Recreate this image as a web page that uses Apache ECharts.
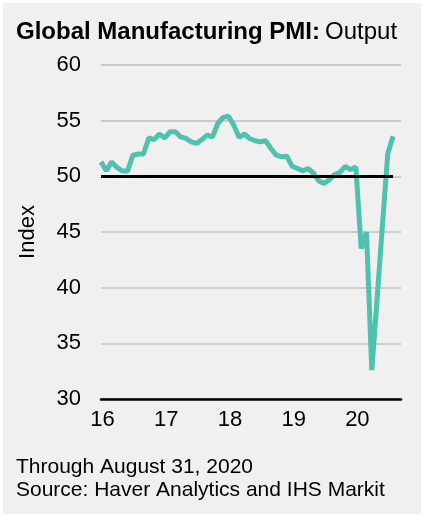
<!DOCTYPE html>
<html>
<head>
<meta charset="utf-8">
<script src="https://cdn.jsdelivr.net/npm/echarts@6/dist/echarts.min.js"></script>
<style>
  html, body { margin: 0; padding: 0; background: #ffffff; }
  #main { position: absolute; left: 3px; top: 3px; width: 418px; height: 511px; }
</style>
</head>
<body>
<div id="main"></div>
<script>
// month labels Jan 2016 .. Aug 2020
var months = [];
for (var y = 2016; y <= 2020; y++) {
    for (var m = 1; m <= 12; m++) {
        if (y === 2020 && m > 8) break;
        months.push(y + '-' + m);
    }
}
var yearLabels = ['16', '17', '18', '19', '20'];

// PMI output index, monthly, Jan 2016 - Aug 2020
var output2016 = [51.3, 50.5, 51.3, 50.8, 50.5, 50.45, 51.9, 52.0, 52.0, 53.45, 53.3, 53.8];
var output2017 = [53.45, 54.0, 54.0, 53.55, 53.4, 53.1, 52.95, 53.3, 53.7, 53.55, 54.75, 55.3];
var output2018 = [55.4, 54.6, 53.5, 53.8, 53.4, 53.2, 53.1, 53.2, 52.5, 51.9, 51.75, 51.8];
var output2019 = [50.9, 50.7, 50.5, 50.7, 50.3, 49.6, 49.35, 49.7, 50.15, 50.35, 50.9, 50.6];
var output2020 = [50.85, 43.5, 45.0, 32.6, 39.0, 45.6, 52.0, 53.6];
var pmiOutput = output2016.concat(output2017, output2018, output2019, output2020);

var threshold = 50;
var yTicks = [30, 35, 40, 45, 50, 55, 60];

// x is the month number counted from Jan 2016
var lineData = pmiOutput.map(function (v, i) { return [i, v]; });

var font = 'Liberation Sans, Arial, sans-serif';
var chart = echarts.init(document.getElementById('main'));

var option = {
    backgroundColor: '#f0f0f0',
    animation: false,
    title: [{
        text: '{b|Global Manufacturing PMI:} {n|Output}',
        left: 8,
        top: 12,
        textStyle: {
            rich: {
                b: { fontFamily: font, fontSize: 24, fontWeight: 'bold', color: '#000' },
                n: { fontFamily: font, fontSize: 24, fontWeight: 'normal', color: '#000' }
            }
        }
    }, {
        text: 'Through August 31, 2020\nSource: Haver Analytics and IHS Markit',
        left: 8,
        top: 447,
        textStyle: { fontFamily: font, fontSize: 21, fontWeight: 'normal', color: '#000', lineHeight: 23.5 }
    }],
    grid: { left: 98, top: 62, width: 300, height: 334 },
    xAxis: {
        type: 'value',
        min: 0,
        max: 56.5,
        interval: 12,
        axisLine: { onZero: false, lineStyle: { color: '#000', width: 2.5 } },
        axisTick: { show: false },
        splitLine: { show: false },
        axisLabel: {
            showMaxLabel: false,
            formatter: function (val) { return yearLabels[Math.round(val / 12)] || ''; },
            fontFamily: font, fontSize: 22, color: '#000', margin: 10, padding: [0, 0, 0, 3]
        }
    },
    yAxis: {
        type: 'value',
        min: yTicks[0],
        max: yTicks[yTicks.length - 1],
        interval: 5,
        name: 'Index',
        nameLocation: 'middle',
        nameRotate: 90,
        nameGap: 62,
        nameTextStyle: { fontFamily: font, fontSize: 22, color: '#000' },
        axisLine: { show: false },
        axisTick: { show: false },
        axisLabel: { fontFamily: font, fontSize: 22, color: '#000', margin: 20 },
        splitLine: { lineStyle: { color: '#bfbfbf', width: 1.5 } }
    },
    series: [{
        name: 'Output',
        type: 'line',
        data: lineData,
        symbol: 'none',
        lineStyle: { color: '#50c1ad', width: 5 },
        markLine: {
            silent: true,
            symbol: 'none',
            label: { show: false },
            lineStyle: { color: '#000', width: 3, type: 'solid' },
            data: [[
                { coord: [0, threshold] },
                { coord: [months.length - 1, threshold] }
            ]]
        }
    }]
};
chart.setOption(option);
</script>
</body>
</html>
